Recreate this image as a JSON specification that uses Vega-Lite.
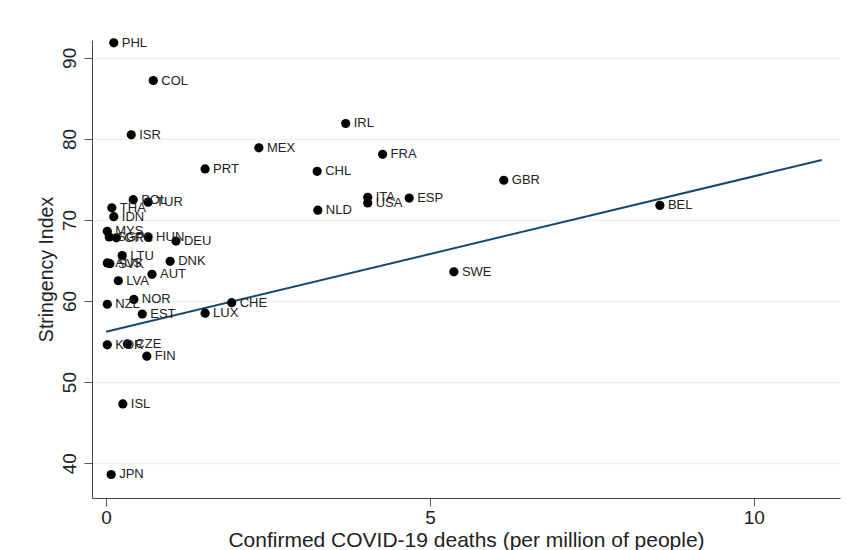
{
  "$schema": "https://vega.github.io/schema/vega-lite/v6.json",
  "width": 748,
  "height": 458,
  "autosize": "none",
  "padding": {"left": 92, "top": 40, "right": 7, "bottom": 52},
  "background": "white",
  "config": {
    "font": "Liberation Sans",
    "view": {"stroke": null},
    "axis": {"grid": false}
  },
  "datasets": {
    "pts": [
      {"iso": "PHL", "deaths": 0.12, "si": 91.85},
      {"iso": "COL", "deaths": 0.73, "si": 87.2},
      {"iso": "ISR", "deaths": 0.39, "si": 80.5},
      {"iso": "MEX", "deaths": 2.36, "si": 78.9},
      {"iso": "PRT", "deaths": 1.53, "si": 76.3},
      {"iso": "IRL", "deaths": 3.70, "si": 81.9},
      {"iso": "FRA", "deaths": 4.27, "si": 78.1},
      {"iso": "CHL", "deaths": 3.26, "si": 76.0},
      {"iso": "GBR", "deaths": 6.14, "si": 74.9},
      {"iso": "ITA", "deaths": 4.04, "si": 72.8},
      {"iso": "USA", "deaths": 4.04, "si": 72.1},
      {"iso": "ESP", "deaths": 4.68, "si": 72.7},
      {"iso": "NLD", "deaths": 3.27, "si": 71.2},
      {"iso": "BEL", "deaths": 8.55, "si": 71.8},
      {"iso": "SWE", "deaths": 5.37, "si": 63.6},
      {"iso": "CHE", "deaths": 1.94, "si": 59.8},
      {"iso": "LUX", "deaths": 1.53, "si": 58.5},
      {"iso": "POL", "deaths": 0.42, "si": 72.5},
      {"iso": "TUR", "deaths": 0.65, "si": 72.2},
      {"iso": "THA", "deaths": 0.09, "si": 71.5},
      {"iso": "IDN", "deaths": 0.12, "si": 70.4},
      {"iso": "MYS", "deaths": 0.02, "si": 68.6},
      {"iso": "SGP", "deaths": 0.05, "si": 67.9},
      {"iso": "GRC", "deaths": 0.16, "si": 67.8},
      {"iso": "HUN", "deaths": 0.65, "si": 67.9},
      {"iso": "DEU", "deaths": 1.08, "si": 67.4},
      {"iso": "LTU", "deaths": 0.25, "si": 65.6},
      {"iso": "AUS", "deaths": 0.02, "si": 64.7},
      {"iso": "SVK", "deaths": 0.06, "si": 64.6},
      {"iso": "DNK", "deaths": 0.99, "si": 64.9},
      {"iso": "AUT", "deaths": 0.71, "si": 63.3},
      {"iso": "LVA", "deaths": 0.19, "si": 62.5},
      {"iso": "NOR", "deaths": 0.43, "si": 60.2},
      {"iso": "NZL", "deaths": 0.02, "si": 59.6},
      {"iso": "EST", "deaths": 0.56, "si": 58.4},
      {"iso": "KOR", "deaths": 0.02, "si": 54.6},
      {"iso": "CZE", "deaths": 0.33, "si": 54.7},
      {"iso": "FIN", "deaths": 0.63, "si": 53.2},
      {"iso": "ISL", "deaths": 0.26, "si": 47.3},
      {"iso": "JPN", "deaths": 0.08, "si": 38.6}
    ],
    "fit": [
      {"deaths": 0, "si": 56.2},
      {"deaths": 11.05, "si": 77.4}
    ]
  },
  "layer": [
    {
      "data": {"name": "fit"},
      "mark": {"type": "line", "color": "#1a476f", "strokeWidth": 2, "clip": true},
      "encoding": {
        "x": {
          "field": "deaths", "type": "quantitative",
          "scale": {"domain": [-0.216, 11.33], "nice": false, "zero": false},
          "axis": {
            "values": [0, 5, 10], "format": "d",
            "title": "Confirmed COVID-19 deaths (per million of people)",
            "titleFontSize": 21, "titleFontWeight": "normal", "titleColor": "#222",
            "titlePadding": 2,
            "labelFontSize": 19, "labelColor": "#222", "labelPadding": 2,
            "tickSize": 8, "tickColor": "#555", "domainColor": "#444",
            "labelFlush": false
          }
        },
        "y": {
          "field": "si", "type": "quantitative",
          "scale": {"domain": [35.7, 92.2], "nice": false, "zero": false},
          "axis": {
            "values": [40, 50, 60, 70, 80, 90],
            "title": "Stringency Index",
            "titleFontSize": 19.5, "titleFontWeight": "normal", "titleColor": "#222",
            "titlePadding": 4,
            "labelFontSize": 19, "labelColor": "#222", "labelAngle": -90,
            "labelAlign": "center", "labelBaseline": "bottom", "labelPadding": 5,
            "tickSize": 8, "tickColor": "#555", "domainColor": "#444",
            "grid": true, "gridColor": "#eaf2f3", "gridWidth": 1.5,
            "labelFlush": false
          }
        }
      }
    },
    {
      "data": {"name": "pts"},
      "mark": {"type": "circle", "color": "black", "opacity": 1, "size": 85},
      "encoding": {
        "x": {"field": "deaths", "type": "quantitative"},
        "y": {"field": "si", "type": "quantitative"}
      }
    },
    {
      "data": {"name": "pts"},
      "mark": {"type": "text", "align": "left", "baseline": "middle", "dx": 8, "fontSize": 13, "color": "#222"},
      "encoding": {
        "x": {"field": "deaths", "type": "quantitative"},
        "y": {"field": "si", "type": "quantitative"},
        "text": {"field": "iso"}
      }
    }
  ]
}
